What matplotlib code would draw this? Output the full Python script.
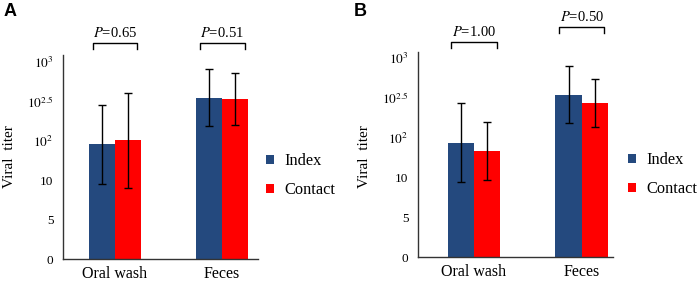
import matplotlib
matplotlib.use("Agg")
import matplotlib.pyplot as plt
import numpy as np

plt.rcParams['font.family'] = ['Liberation Serif', 'DejaVu Serif']
plt.rcParams['mathtext.fontset'] = 'stix'

# Data (position on the chart's ordinal titer axis: 0,5,10,10^2,10^2.5,10^3 -> 0..5)
categories = ["Oral wash", "Feces"]
series = ["Index", "Contact"]
ytick_labels = ["0", "5", "10", "$10^{2}$", "$10^{2.5}$", "$10^{3}$"]

a_index = [2.91, 4.09]
a_index_err = [1.00, 0.73]
a_contact = [3.01, 4.06]
a_contact_err = [1.20, 0.66]
a_pvals = ["0.65", "0.51"]

b_index = [2.88, 4.09]
b_index_err = [1.00, 0.72]
b_contact = [2.67, 3.87]
b_contact_err = [0.73, 0.61]
b_pvals = ["1.00", "0.50"]

BLUE = "#24497E"
RED = "#FF0000"

W, H = 700, 282
fig = plt.figure(figsize=(7.0, 2.82), dpi=100)


def px_axes(x0, x1, ytop, ybot):
    return fig.add_axes([x0 / W, (H - ybot) / H, (x1 - x0) / W, (ybot - ytop) / H])


def draw_panel(ax, idx, idx_err, con, con_err, pvals, xlim, ylim, bracket_y, label, legend_xy, ylabel_x):
    x = np.arange(len(categories))
    bw = 0.245
    ekw = dict(ecolor='black', elinewidth=1.0, capsize=3.0, capthick=1.0)
    ax.bar(x - bw / 2, idx, bw, color=BLUE, label=series[0], zorder=2, yerr=idx_err, error_kw=ekw)
    ax.bar(x + bw / 2, con, bw, color=RED, label=series[1], zorder=2, yerr=con_err, error_kw=ekw)
    ax.set_xlim(*xlim)
    ax.set_ylim(*ylim)
    ax.set_yticks(range(len(ytick_labels)))
    ax.set_yticklabels(ytick_labels, fontsize=9.5)
    ax.set_xticks(x)
    ax.set_xticklabels(categories, fontsize=11.5)
    ax.tick_params(axis='y', length=0, pad=7)
    ax.tick_params(axis='x', length=0, pad=5)
    for s in ['top', 'right']:
        ax.spines[s].set_visible(False)
    for s in ['left', 'bottom']:
        ax.spines[s].set_linewidth(1.0)
        ax.spines[s].set_color('#333333')
    # brackets with p-values
    for i, (p, by) in enumerate(zip(pvals, bracket_y)):
        x0, x1 = i - 0.21, i + 0.21
        ax.plot([x0, x0, x1, x1], [by - 0.15, by, by, by - 0.15], color='black', lw=1.0,
                clip_on=False, solid_joinstyle='round')
        ax.text(i, by + 0.07, r"$P$=" + p, ha='center', va='bottom', fontsize=10.5, clip_on=False)
    ax.legend(loc='upper left', bbox_to_anchor=legend_xy, bbox_transform=fig.transFigure,
              frameon=False, fontsize=11.8, handlelength=0.5, handleheight=0.5,
              handletextpad=0.6, labelspacing=0.8, borderaxespad=0, borderpad=0)
    fig.text(ylabel_x / W, 1 - 157 / H, "Viral  titer", rotation=90, ha='center', va='center', fontsize=11)
    fig.text(label[1] / W, 1 - label[2] / H, label[0], fontsize=13, fontweight='bold',
             family='Liberation Sans', ha='left', va='center')


axA = px_axes(63, 258, 55, 259)
draw_panel(axA, a_index, a_index_err, a_contact, a_contact_err, a_pvals,
           (-0.486, 1.336), (0, 5.17), [5.48, 5.48], ("A", 4, 12), (266 / W, 1 - 153 / H), 10)

axB = px_axes(418, 613, 52, 257)
draw_panel(axB, b_index, b_index_err, b_contact, b_contact_err, b_pvals,
           (-0.52, 1.29), (0, 5.16), [5.42, 5.8], ("B", 354, 12), (628 / W, 1 - 152 / H), 364)

fig.savefig("out.png", dpi=100)
